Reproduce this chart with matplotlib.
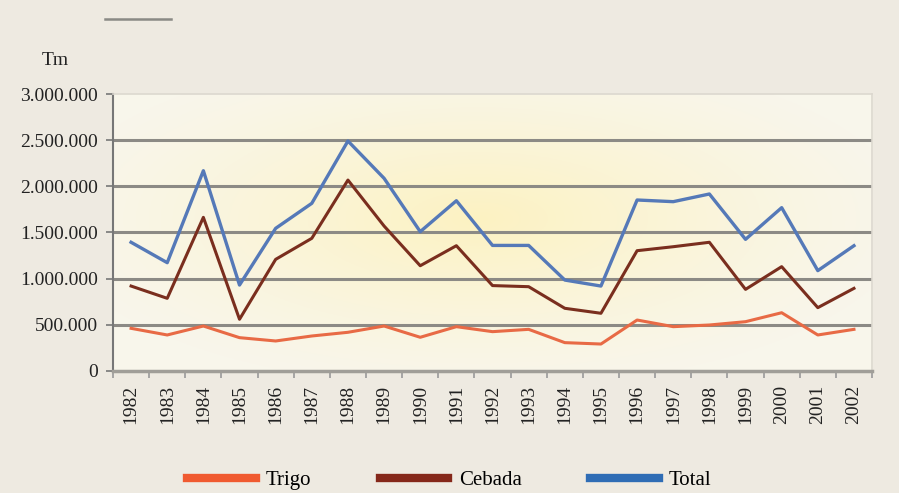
import numpy as np
import matplotlib.pyplot as plt
from matplotlib.lines import Line2D

# datos (Tm)
anios = [str(a) for a in range(1982, 2003)]
trigo = [462000, 390000, 487000, 361000, 325000, 379000, 419000, 487000, 365000, 480000,
         426000, 451000, 307000, 292000, 552000, 480000, 498000, 534000, 631000, 390000, 451000]
cebada = [920000, 787000, 1664000, 560000, 1209000, 1437000, 2068000, 1570000, 1140000, 1357000,
          925000, 913000, 679000, 625000, 1303000, 1346000, 1394000, 884000, 1130000, 686000, 895000]
total = [1394000, 1173000, 2169000, 931000, 1545000, 1816000, 2491000, 2087000, 1509000, 1844000,
         1360000, 1360000, 985000, 920000, 1852000, 1834000, 1917000, 1426000, 1769000, 1087000, 1357000]
y_ticks = [0, 500000, 1000000, 1500000, 2000000, 2500000, 3000000]
y_labels = ['0', '500.000', '1.000.000', '1.500.000', '2.000.000', '2.500.000', '3.000.000']

plt.rcParams['font.family'] = ['Liberation Serif', 'DejaVu Serif']

fondo = '#eeeae1'
fig = plt.figure(figsize=(8.99, 4.93), dpi=100, facecolor=fondo)
ax = fig.add_axes([0.1257, 0.2475, 0.8443, 0.5618])

# fondo degradado del area de trazado
nx, ny = 300, 150
gx, gy = np.meshgrid(np.linspace(0, 1, nx), np.linspace(0, 1, ny))
d = np.sqrt(((gx - 0.48) / 0.6) ** 2 + ((gy - 0.55) / 0.65) ** 2)
w = np.clip(1 - d, 0, 1) ** 1.3
c0 = np.array([0.975, 0.965, 0.925])
c1 = np.array([0.99, 0.95, 0.76])
img = c0 + (c1 - c0) * w[..., None]
x = np.arange(len(anios))
ax.imshow(img, extent=(-0.5, len(anios) - 0.5, 0, 3000000), aspect='auto', zorder=0, origin='lower')

# rejilla
for v in y_ticks[1:-1]:
    ax.axhline(v, color='#8c8a85', lw=2.2, zorder=1)

ax.plot(x, trigo, color='#e86a45', lw=2.2, zorder=3, label='Trigo')
ax.plot(x, cebada, color='#7a2e1e', lw=2.2, zorder=3, label='Cebada')
ax.plot(x, total, color='#5579b8', lw=2.4, zorder=3, label='Total')

ax.set_xlim(-0.5, len(anios) - 0.5)
ax.set_ylim(0, 3000000)
ax.set_yticks(y_ticks)
ax.set_yticklabels(y_labels, fontsize=14, color='#222222')
ax.set_xticks(x)
ax.set_xticklabels(anios, rotation=90, fontsize=14, color='#222222')
ax.set_xticks(np.arange(-0.5, len(anios)), minor=True)
ax.tick_params(axis='x', which='major', length=0, pad=10)
ax.tick_params(axis='x', which='minor', length=5, width=1.2, color='#999999')
ax.tick_params(axis='y', length=5, width=1.2, color='#777777', pad=6)

for s in ['top', 'right']:
    ax.spines[s].set_color('#dcd8cf')
    ax.spines[s].set_linewidth(1.2)
ax.spines['left'].set_color('#777777')
ax.spines['left'].set_linewidth(1.5)
ax.spines['bottom'].set_color('#a09e98')
ax.spines['bottom'].set_linewidth(2.5)

fig.text(0.0612, 0.878, 'Tm', fontsize=14, ha='center', va='center', color='#222222')
fig.add_artist(Line2D([0.117, 0.19], [0.962, 0.962], color='#8a8a85', lw=1.8))

leg = fig.legend(loc='center', bbox_to_anchor=(0.5, 0.026), ncol=3, frameon=False, fontsize=15,
                 handlelength=3.27, handletextpad=0.5, columnspacing=3.3)
for h, c in zip(leg.get_lines(), ['#f05a30', '#85281a', '#2f6db5']):
    h.set_linewidth(6)
    h.set_color(c)

fig.savefig('out.png', dpi=100, facecolor=fondo)
